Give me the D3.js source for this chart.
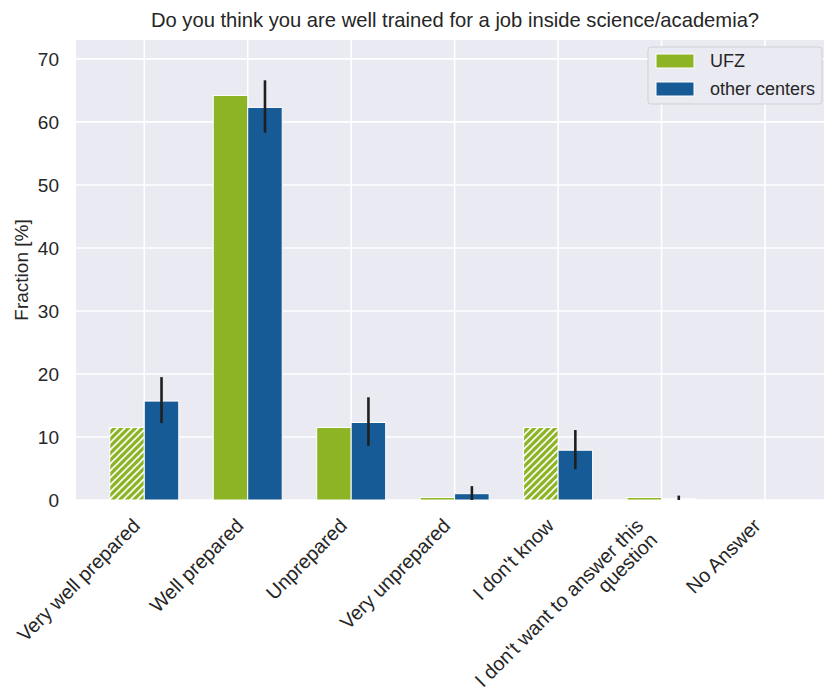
<!DOCTYPE html>
<html>
<head>
<meta charset="utf-8">
<script src="https://cdn.jsdelivr.net/npm/d3@7"></script>
<style>
  body { margin: 0; background: #fff; }
  text { font-family: "Liberation Sans", Arial, sans-serif; fill: #262626; }
</style>
</head>
<body>
<div id="chart"></div>
<script>
// survey answers
const categories = [
  "Very well prepared",
  "Well prepared",
  "Unprepared",
  "Very unprepared",
  "I don't know",
  "I don't want to answer this\nquestion",
  "No Answer"
];
const ufzValues = [11.5, 64.2, 11.5, 0.4, 11.5, 0.4, 0];
const otherValues = [15.7, 62.3, 12.3, 1.0, 7.9, 0.2, 0];
const otherLower = [12.2, 58.3, 8.6, 0, 4.9, 0, 0];
const otherUpper = [19.5, 66.6, 16.3, 2.2, 11.1, 0.7, 0];
// UFZ answers with few responses are drawn hatched
const ufzLowN = [true, false, false, false, true, false, false];
const otherFaded = [false, false, false, false, false, true, false];
const yTicks = [0, 10, 20, 30, 40, 50, 60, 70];
const seriesNames = ["UFZ", "other centers"];

const width = 824, height = 693;
const green = "#8db424", blue = "#165a96";
const barW = 1 / 3;

const svg = d3.select("#chart")
  .append("svg")
    .attr("width", width)
    .attr("height", height);

const defs = svg.append("defs");
const hatch = defs.append("pattern")
    .attr("id", "hatch")
    .attr("patternUnits", "userSpaceOnUse")
    .attr("width", 7)
    .attr("height", 7);
hatch.append("rect").attr("width", 7).attr("height", 7).attr("fill", green);
hatch.append("path")
    .attr("d", "M-1,1 l2,-2 M0,7 l7,-7 M6,8 l2,-2")
    .attr("stroke", "#fff")
    .attr("stroke-width", 1.6);

const x = d3.scaleLinear().domain([-0.66, 6.667]).range([76, 834]);
const y = d3.scaleLinear().domain([0, 73]).range([500, 40]);

// background
svg.append("rect")
    .attr("x", x.range()[0]).attr("y", y.range()[1])
    .attr("width", x.range()[1] - x.range()[0])
    .attr("height", y.range()[0] - y.range()[1])
    .attr("fill", "#eaeaf2");

// grid
svg.append("g").selectAll("line")
  .data(yTicks)
  .join("line")
    .attr("x1", x.range()[0]).attr("x2", x.range()[1])
    .attr("y1", d => y(d)).attr("y2", d => y(d))
    .attr("stroke", "#fff").attr("stroke-width", 1.6);

svg.append("g").selectAll("line")
  .data(categories)
  .join("line")
    .attr("x1", (d, i) => x(i)).attr("x2", (d, i) => x(i))
    .attr("y1", y.range()[1]).attr("y2", y.range()[0])
    .attr("stroke", "#fff").attr("stroke-width", 1.6);

// bars
svg.append("g").selectAll("rect")
  .data(ufzValues)
  .join("rect")
    .attr("x", (d, i) => x(i - barW))
    .attr("y", d => y(d))
    .attr("width", x(barW) - x(0))
    .attr("height", d => y(0) - y(d))
    .attr("fill", (d, i) => ufzLowN[i] ? "url(#hatch)" : green)
    .attr("stroke", "#fff")
    .attr("stroke-width", d => d > 0 ? 1 : 0);

svg.append("g").selectAll("rect")
  .data(otherValues)
  .join("rect")
    .attr("x", (d, i) => x(i))
    .attr("y", d => y(d))
    .attr("width", x(barW) - x(0))
    .attr("height", d => y(0) - y(d))
    .attr("fill", (d, i) => otherFaded[i] ? "#f2f4f9" : blue)
    .attr("stroke", "#fff")
    .attr("stroke-width", d => d > 0 ? 1 : 0);

// error bars
svg.append("g").selectAll("line")
  .data(otherUpper)
  .join("line")
    .attr("x1", (d, i) => x(i + barW / 2)).attr("x2", (d, i) => x(i + barW / 2))
    .attr("y1", (d, i) => y(otherLower[i])).attr("y2", d => y(d))
    .attr("stroke", "#1f1f1f")
    .attr("stroke-width", (d, i) => d > otherLower[i] ? 2.6 : 0);

// y axis labels
svg.append("g").selectAll("text")
  .data(yTicks)
  .join("text")
    .attr("x", 59)
    .attr("y", d => y(d))
    .attr("dy", "0.36em")
    .attr("text-anchor", "end")
    .style("font-size", "19px")
    .text(d => d);

svg.append("text")
    .attr("transform", `translate(28,${(y.range()[0] + y.range()[1]) / 2}) rotate(-90)`)
    .attr("text-anchor", "middle")
    .style("font-size", "19px")
    .text("Fraction [%]");

// x axis labels, rotated
const lineH = 20;
const xl = svg.append("g").selectAll("text")
  .data(categories)
  .join("text")
    .attr("transform", (d, i) => {
      const n = d.split("\n").length - 1;
      const ex = x(i) - 3 - n * lineH * Math.SQRT1_2;
      return `translate(${ex},527) rotate(-45)`;
    })
    .attr("text-anchor", "end")
    .style("font-size", "19.8px");
xl.selectAll("tspan")
  .data(d => d.split("\n"))
  .join("tspan")
    .attr("x", 0)
    .attr("dy", (d, j) => j === 0 ? 0 : lineH)
    .text(d => d);

// title
svg.append("text")
    .attr("x", (x.range()[0] + x.range()[1]) / 2)
    .attr("y", 27)
    .attr("text-anchor", "middle")
    .style("font-size", "20.2px")
    .text("Do you think you are well trained for a job inside science/academia?");

// legend
const lg = svg.append("g").attr("transform", "translate(648,47)");
lg.append("rect")
    .attr("width", 174).attr("height", 57)
    .attr("rx", 3)
    .attr("fill", "#eaeaf2")
    .attr("stroke", "#cfcfd6");
const lgColors = [green, blue];
seriesNames.forEach((name, i) => {
  lg.append("rect")
      .attr("x", 8).attr("y", 7 + i * 28)
      .attr("width", 38).attr("height", 14)
      .attr("fill", lgColors[i])
      .attr("stroke", "#fff").attr("stroke-width", 1);
  lg.append("text")
      .attr("x", 62).attr("y", 14 + i * 28)
      .attr("dy", "0.36em")
      .style("font-size", "18px")
      .text(name);
});
</script>
</body>
</html>
